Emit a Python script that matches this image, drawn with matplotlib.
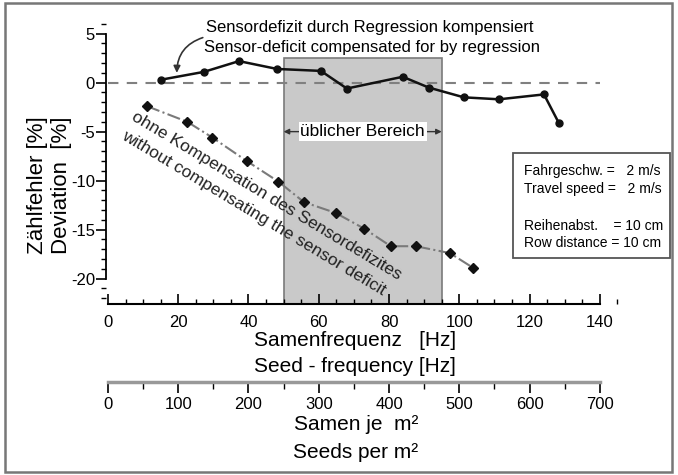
import numpy as np
import matplotlib
matplotlib.use("Agg")
import matplotlib.pyplot as plt
from matplotlib.patches import Rectangle
from matplotlib.ticker import MultipleLocator

plt.rcParams['font.family'] = ['Liberation Sans', 'DejaVu Sans']
plt.rcParams['axes.unicode_minus'] = False

# compensated by regression (circles)
x_comp = [15.1, 27.3, 37.3, 48.1, 60.6, 68.0, 83.9, 91.3, 101.3, 111.3, 124.1, 128.3]
y_comp = [0.3, 1.1, 2.2, 1.4, 1.2, -0.6, 0.6, -0.5, -1.5, -1.7, -1.2, -4.1]
# without compensation (diamonds)
x_raw = [11.1, 22.6, 29.7, 39.5, 48.5, 55.8, 64.8, 72.9, 80.5, 87.6, 97.3, 103.9]
y_raw = [-2.4, -4.0, -5.6, -8.0, -10.1, -12.2, -13.3, -14.9, -16.7, -16.7, -17.4, -18.9]
# usual working range [Hz]
usual_range = [50, 95]
seeds_per_hz = 5  # 2 m/s, 10 cm row distance

fig = plt.figure(figsize=(6.78, 4.75), dpi=100)
ax_left, ax_w = 0.1566, 0.7696
ax = fig.add_axes([ax_left, 0.36, ax_w, 0.5897])
ylo, yhi = -22.6, 6
xlo, xhi = -0.5, 148
ax.set_xlim(xlo, xhi)
ax.set_ylim(ylo, yhi)

# grey band for usual range
ax.add_patch(Rectangle((usual_range[0], ylo), usual_range[1] - usual_range[0], 2.5 - ylo,
                       facecolor='#c9c9c9', edgecolor='#7a7a7a', lw=1.2, zorder=0))

ax.plot([0, 140], [0, 0], ls=(0, (5, 4)), color='#808080', lw=1.5, zorder=1)
ax.plot(x_comp, y_comp, '-o', color='#111111', lw=1.8, ms=5, zorder=3)
ax.plot(x_raw, y_raw, ls='-.', color='#7a7a7a', lw=1.5, zorder=2)
ax.plot(x_raw, y_raw, 'D', color='#111111', ms=5.5, zorder=3)

# spines
for s in ['top', 'right']:
    ax.spines[s].set_visible(False)
ax.spines['left'].set_bounds(-20, 5)
ax.spines['bottom'].set_bounds(0, 140)
ax.spines['left'].set_linewidth(1.3)
ax.spines['bottom'].set_linewidth(1.5)

ax.set_yticks([-20, -15, -10, -5, 0, 5])
ax.yaxis.set_minor_locator(MultipleLocator(1))
ax.tick_params(axis='y', which='major', direction='out', length=7, width=1.2, labelsize=12, pad=1)
ax.tick_params(axis='y', which='minor', direction='out', length=3.5, width=1)

ax.set_xticks(np.arange(0, 141, 20))
ax.xaxis.set_minor_locator(MultipleLocator(5))
ax.tick_params(axis='x', which='major', direction='in', length=7, width=1.2, labelsize=12, pad=8)
ax.tick_params(axis='x', which='minor', direction='in', length=3.5, width=1)

# second scale: seeds per m2 (separate flat axes)
ax2 = fig.add_axes([ax_left, (475 - 382) / 475, ax_w, 0.0001])
ax2.set_xlim(xlo * seeds_per_hz, xhi * seeds_per_hz)
ax2.patch.set_visible(False)
for s in ['top', 'left', 'right']:
    ax2.spines[s].set_visible(False)
ax2.spines['bottom'].set_bounds(0, 700)
ax2.spines['bottom'].set_color('#999999')
ax2.spines['bottom'].set_linewidth(2.5)
ax2.set_yticks([])
ax2.set_xticks(np.arange(0, 701, 100))
ax2.xaxis.set_minor_locator(MultipleLocator(50))
ax2.tick_params(which='major', direction='out', length=8, width=1.2, labelsize=12, pad=3)
ax2.tick_params(which='minor', direction='out', length=5, width=1)

# axis titles
fig.text(37 / 678, 1 - 185 / 475, 'Zählfehler [%]', rotation=90, ha='center', va='center', fontsize=16)
fig.text(62 / 678, 1 - 185 / 475, 'Deviation  [%]', rotation=90, ha='center', va='center', fontsize=16)
fig.text(355 / 678, 1 - 340 / 475, 'Samenfrequenz   [Hz]', ha='center', va='center', fontsize=15)
fig.text(355 / 678, 1 - 367 / 475, 'Seed - frequency [Hz]', ha='center', va='center', fontsize=15)
fig.text(356 / 678, 1 - 425 / 475, 'Samen je  m²', ha='center', va='center', fontsize=15)
fig.text(356 / 678, 1 - 453 / 475, 'Seeds per m²', ha='center', va='center', fontsize=15)

# annotations
ax.text(27.9, 5.68, 'Sensordefizit durch Regression kompensiert', fontsize=12, va='center', ha='left')
ax.text(27.3, 3.54, 'Sensor-deficit compensated for by regression', fontsize=12, va='center', ha='left')
ax.annotate('', xy=(19.6, 1.0), xytext=(27.0, 4.6),
            arrowprops=dict(arrowstyle='-|>', connectionstyle='arc3,rad=0.35', color='#333333',
                            lw=1.2, mutation_scale=10, shrinkA=0, shrinkB=0))

ax.text(45.0, -11.6, 'ohne Kompensation des Sensordefizites', rotation=-31, rotation_mode='anchor',
        ha='center', va='center', fontsize=12.5, color='#222222')
ax.text(41.5, -13.3, 'without compensating the sensor deficit', rotation=-31, rotation_mode='anchor',
        ha='center', va='center', fontsize=12.5, color='#222222')

ax.annotate('', xy=(usual_range[0], -5), xytext=(usual_range[1], -5),
            arrowprops=dict(arrowstyle='<|-|>', color='#333333', lw=1, mutation_scale=8,
                            shrinkA=0, shrinkB=0))
ax.text(sum(usual_range) / 2, -5, 'üblicher Bereich', ha='center', va='center', fontsize=12.5,
        bbox=dict(boxstyle='square,pad=0.1', fc='white', ec='none'))

# info box
fig.add_artist(Rectangle((513 / 678, 1 - 258 / 475), 157 / 678, 105 / 475, transform=fig.transFigure,
                         fill=False, ec='#555555', lw=1.3))
info = ['Fahrgeschw. =   2 m/s', 'Travel speed =   2 m/s', 'Reihenabst.    = 10 cm', 'Row distance = 10 cm']
info_y = [171, 189, 226, 243]
for t, yy in zip(info, info_y):
    fig.text(524 / 678, 1 - yy / 475, t, ha='left', va='center', fontsize=10)

# outer frame
fig.add_artist(Rectangle((5 / 678, 3 / 475), 667 / 678, 469 / 475, transform=fig.transFigure,
                         fill=False, ec='#777777', lw=1.8))

fig.savefig('out.png', dpi=100)
